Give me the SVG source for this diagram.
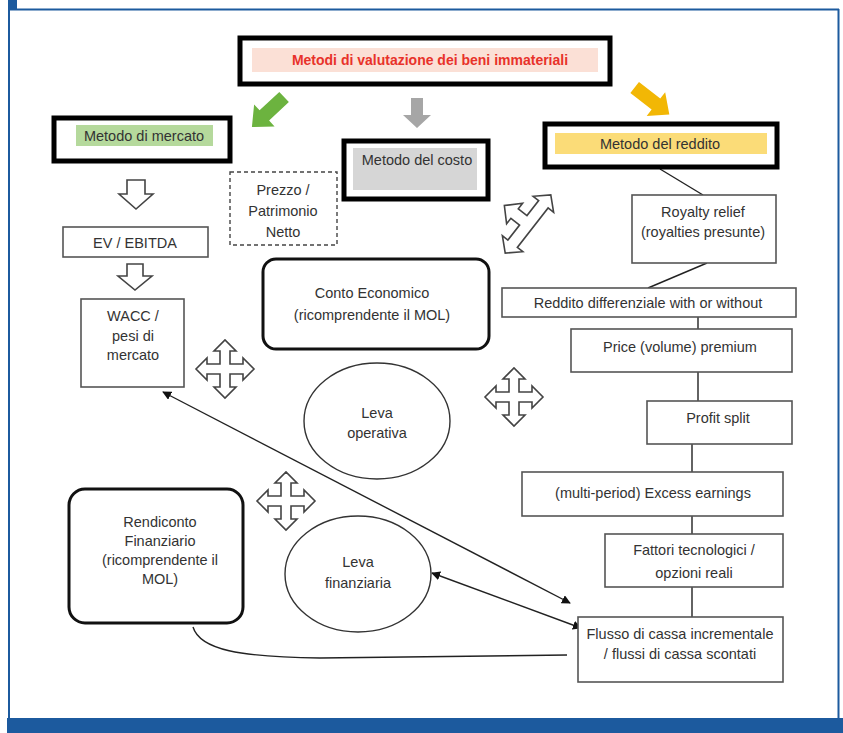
<svg xmlns="http://www.w3.org/2000/svg" width="843" height="733" viewBox="0 0 843 733">
<style>
text{font-family:"Liberation Sans",Arial,sans-serif;font-size:14.5px;fill:#333;text-anchor:middle}
.title{fill:#e8322a;font-weight:bold;font-size:14px}
.thick{fill:#fff;stroke:#000;stroke-width:5}
.thin{fill:#fff;stroke:#555;stroke-width:1.6}
.round{fill:#fff;stroke:#111;stroke-width:3}
.ell{fill:#fff;stroke:#333;stroke-width:1.4}
.line{fill:none;stroke:#222;stroke-width:1.4}
.hollow{fill:#fff;stroke:#444;stroke-width:1.6;stroke-linejoin:miter}
.frame{fill:none;stroke:#1c5a9e;stroke-width:2}
</style>
<defs>
<marker id="ah" viewBox="0 0 10 10" refX="9" refY="5" markerWidth="9" markerHeight="9" markerUnits="userSpaceOnUse" orient="auto-start-reverse">
<path d="M0,0 L10,5 L0,10 Z" fill="#111"/>
</marker>
<path id="cross" d="M-5,-5 L-5,-18 L-11,-18 L0,-29 L11,-18 L5,-18 L5,-5 L18,-5 L18,-11 L29,0 L18,11 L18,5 L5,5 L5,18 L11,18 L0,29 L-11,18 L-5,18 L-5,5 L-18,5 L-18,11 L-29,0 L-18,-11 L-18,-5 Z"/>
<path id="blk" d="M-22,-7 L5,-7 L5,-15 L22,0 L5,15 L5,7 L-22,7 Z"/>
</defs>
<rect width="843" height="733" fill="#fff"/>
<!-- frame -->
<g id="frame">
<line class="frame" x1="9" y1="9.5" x2="839" y2="9.5"/>
<line class="frame" x1="9" y1="9" x2="9" y2="719"/>
<line class="frame" x1="838.5" y1="9" x2="838.5" y2="719"/>
<rect x="8" y="0" width="9" height="10" fill="#1c5a9e"/>
<rect x="7" y="718" width="836" height="15" fill="#1c5a9e"/>
</g>
<!-- connectors -->
<g id="connectors">
<line class="line" x1="660" y1="169" x2="703" y2="195"/>
<line class="line" x1="707" y1="263" x2="648" y2="288"/>
<line class="line" x1="698" y1="317" x2="698" y2="329"/>
<line class="line" x1="698" y1="372" x2="698" y2="401"/>
<line class="line" x1="692" y1="444" x2="692" y2="472"/>
<line class="line" x1="692" y1="516" x2="692" y2="534"/>
<line class="line" x1="692" y1="587" x2="692" y2="617"/>
<line class="line" x1="163" y1="392" x2="570" y2="603" marker-start="url(#ah)" marker-end="url(#ah)"/>
<line class="line" x1="432" y1="573" x2="581" y2="628" marker-start="url(#ah)" marker-end="url(#ah)"/>
<path class="line" d="M193,627 C200,650 240,657 320,658 L567,655"/>
<use href="#blk" fill="#6cb33f" transform="translate(268,112) rotate(137)"/>
<path d="M-15,-6 L2,-6 L2,-14 L15,0 L2,14 L2,6 L-15,6 Z" fill="#a6a6a6" transform="translate(417,113) rotate(90)"/>
<use href="#blk" fill="#f2b705" transform="translate(652,101) rotate(38)"/>
<path class="hollow" d="M-9,-17 L-9,-3 L-17,-3 L0,12 L17,-3 L9,-3 L9,-17 Z" transform="translate(136,197)"/>
<path class="hollow" d="M-8,-15 L-8,-3 L-17,-3 L0,11 L17,-3 L8,-3 L8,-15 Z" transform="translate(135,279)"/>
<use href="#cross" class="hollow" transform="translate(225,369)"/>
<use href="#cross" class="hollow" transform="translate(514,397)"/>
<use href="#cross" class="hollow" transform="translate(286,501)"/>
<path class="hollow" d="M-37,0 L-25,-13 L-25,-6 L-6,-6 L-6,-17 L-13,-17 L0,-30 L13,-17 L6,-17 L6,-6 L25,-6 L25,-13 L37,0 L25,13 L25,6 L-25,6 L-25,13 Z" transform="translate(528,224) rotate(-52)"/>
</g>
<!-- nodes -->
<g id="title">
<rect class="thick" x="240" y="38" width="370" height="46"/>
<rect x="252" y="48" width="346" height="24" fill="#fbe0d6"/>
<text class="title" x="430" y="65">Metodi di valutazione dei beni immateriali</text>
</g>
<g id="mercato">
<rect class="thick" x="54" y="118" width="176" height="43"/>
<rect x="76" y="125" width="137" height="21" fill="#b5d99c"/>
<text x="144" y="141">Metodo di mercato</text>
</g>
<g id="costo">
<rect class="thick" x="344" y="141" width="144" height="58"/>
<rect x="353" y="148" width="124" height="42" fill="#d6d6d6"/>
<text x="417" y="165">Metodo del costo</text>
</g>
<g id="reddito">
<rect class="thick" x="545" y="124" width="232" height="43"/>
<rect x="555" y="133" width="212" height="21" fill="#fbdc78"/>
<text x="660" y="149">Metodo del reddito</text>
</g>
<g id="prezzo">
<rect x="230" y="172" width="107" height="73" fill="#fff" stroke="#444" stroke-width="1.4" stroke-dasharray="4,3"/>
<text x="283" y="195">Prezzo /</text>
<text x="283" y="216">Patrimonio</text>
<text x="283" y="237">Netto</text>
</g>
<g id="ev">
<rect class="thin" x="63" y="227" width="145" height="30"/>
<text x="135" y="248">EV / EBITDA</text>
</g>
<g id="wacc">
<rect class="thin" x="81" y="299" width="103" height="88"/>
<text x="133" y="321">WACC /</text>
<text x="133" y="341">pesi di</text>
<text x="133" y="360">mercato</text>
</g>
<g id="conto">
<rect class="round" x="263" y="259" width="226" height="90" rx="13"/>
<text x="372" y="298">Conto Economico</text>
<text x="372" y="320">(ricomprendente il MOL)</text>
</g>
<g id="levaop">
<ellipse class="ell" cx="377" cy="421" rx="73" ry="58"/>
<text x="377" y="418">Leva</text>
<text x="377" y="438">operativa</text>
</g>
<g id="levafin">
<ellipse class="ell" cx="358" cy="574" rx="73" ry="58"/>
<text x="358" y="567">Leva</text>
<text x="358" y="588">finanziaria</text>
</g>
<g id="rendiconto">
<rect class="round" x="69" y="489" width="174" height="134" rx="16"/>
<text x="160" y="527">Rendiconto</text>
<text x="160" y="546">Finanziario</text>
<text x="160" y="565">(ricomprendente il</text>
<text x="160" y="584">MOL)</text>
</g>
<g id="royalty">
<rect class="thin" x="632" y="195" width="144" height="68"/>
<text x="703" y="217">Royalty relief</text>
<text x="703" y="237">(royalties presunte)</text>
</g>
<g id="differenziale">
<rect class="thin" x="502" y="288" width="294" height="29"/>
<text x="648" y="308">Reddito differenziale with or without</text>
</g>
<g id="price">
<rect class="thin" x="571" y="329" width="221" height="43"/>
<text x="680" y="352">Price (volume) premium</text>
</g>
<g id="profit">
<rect class="thin" x="647" y="401" width="145" height="43"/>
<text x="718" y="423">Profit split</text>
</g>
<g id="excess">
<rect class="thin" x="522" y="472" width="261" height="44"/>
<text x="653" y="498">(multi-period) Excess earnings</text>
</g>
<g id="fattori">
<rect class="thin" x="605" y="534" width="178" height="53"/>
<text x="694" y="555">Fattori tecnologici /</text>
<text x="694" y="578">opzioni reali</text>
</g>
<g id="flusso">
<rect class="thin" x="578" y="617" width="205" height="65"/>
<text x="680" y="639">Flusso di cassa incrementale</text>
<text x="680" y="659">/ flussi di cassa scontati</text>
</g>
</svg>
